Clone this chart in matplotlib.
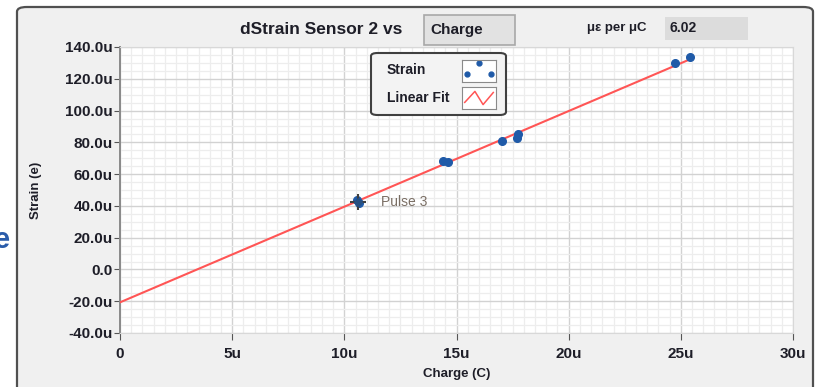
import matplotlib
matplotlib.use("Agg")
import matplotlib.pyplot as plt
from matplotlib.patches import FancyBboxPatch, Rectangle
from matplotlib.ticker import FixedLocator, FixedFormatter, MultipleLocator

# data (charge in uC, strain in u)
charge = [10.55, 10.65, 14.4, 14.6, 17.05, 17.7, 17.75, 24.75, 25.4]
strain = [43.5, 41.8, 68.5, 67.5, 81.0, 83.0, 85.5, 130.0, 134.0]
fit_x = [0.0, 25.4]
fit_y = [-20.7, 132.2]
cursor_x, cursor_y = 10.6, 42.6
slope_text = "6.02"

xticks = [0, 5, 10, 15, 20, 25, 30]
xticklabels = ["0", "5u", "10u", "15u", "20u", "25u", "30u"]
yticks = [-40, -20, 0, 20, 40, 60, 80, 100, 120, 140]
yticklabels = ["-40.0u", "-20.0u", "0.0", "20.0u", "40.0u", "60.0u",
               "80.0u", "100.0u", "120.0u", "140.0u"]

W, H = 819, 387
plt.rcParams['font.family'] = ['Liberation Sans', 'DejaVu Sans']
txt = '#1e1e28'

fig = plt.figure(figsize=(W / 100, H / 100), dpi=100, facecolor='white')


def fx(px):
    return px / W


def fy(py):
    return 1 - py / H


# outer panel
fig.patches.append(FancyBboxPatch((fx(17), fy(400)), fx(796), fy(7) - fy(400),
                                  boxstyle="round,pad=0,rounding_size=0.012",
                                  transform=fig.transFigure, fc='#f0f0f0',
                                  ec='#505050', lw=1.6, zorder=-5))
fig.text(fx(-6), fy(240), "e", color='#2a5caa', fontsize=21, fontweight='bold',
         ha='left', va='center')

# title row
fig.text(fx(321), fy(30), "dStrain Sensor 2 vs", fontsize=12.5, fontweight='bold',
         color=txt, ha='center', va='center')
fig.patches.append(Rectangle((fx(424), fy(45)), fx(91), fy(15) - fy(45),
                             transform=fig.transFigure, fc='#e2e2e2', ec='#a8a8a8', lw=1.2))
fig.text(fx(430), fy(30), "Charge", fontsize=11, fontweight='bold', color=txt,
         ha='left', va='center')
fig.text(fx(617), fy(28), "με per μC", fontsize=9.5, fontweight='bold', color=txt,
         ha='center', va='center')
fig.patches.append(Rectangle((fx(665), fy(40)), fx(83), fy(17) - fy(40),
                             transform=fig.transFigure, fc='#dcdcdc', ec='none'))
fig.text(fx(669), fy(28), slope_text, fontsize=10, fontweight='bold', color=txt,
         ha='left', va='center')

# plot area
ax = fig.add_axes([fx(120), fy(333), fx(673), fy(47) - fy(333)])
ax.set_facecolor('white')
ax.set_xlim(0, 30)
ax.set_ylim(-40, 140)
ax.xaxis.set_major_locator(FixedLocator(xticks))
ax.xaxis.set_major_formatter(FixedFormatter(xticklabels))
ax.yaxis.set_major_locator(FixedLocator(yticks))
ax.yaxis.set_major_formatter(FixedFormatter(yticklabels))
ax.xaxis.set_minor_locator(MultipleLocator(0.5))
ax.yaxis.set_minor_locator(MultipleLocator(5))
ax.grid(which='major', color='#d2d2d2', lw=1.0)
ax.grid(which='minor', color='#ededed', lw=0.9)
ax.set_axisbelow(True)
for s in ['top', 'right', 'bottom']:
    ax.spines[s].set_color('#d8d8d8')
ax.spines['left'].set_color('#8a8a8a')
ax.spines['left'].set_linewidth(1.4)
ax.tick_params(which='minor', length=0)
ax.tick_params(axis='y', which='major', length=4, color='#555555', labelsize=11,
               labelcolor=txt, pad=1)
ax.tick_params(axis='x', which='major', length=5, color='#555555', labelsize=11,
               labelcolor=txt, pad=5, direction='out')
for lab in ax.get_xticklabels() + ax.get_yticklabels():
    lab.set_fontweight('bold')

ax.plot(fit_x, fit_y, color='#ff5555', lw=1.5, zorder=3)
ax.plot(charge, strain, 'o', color='#1f5aa8', ms=5.5, zorder=4)
ax.plot([cursor_x], [cursor_y], marker='+', color='#404040', ms=12, mew=1.5, zorder=5)
ax.plot([cursor_x], [cursor_y], marker='D', color='#274f80', ms=4, zorder=6)
ax.text(cursor_x + 1.05, cursor_y - 0.3, "Pulse 3", color='#7a6e64', fontsize=10,
        ha='left', va='center', zorder=6)

ax.set_xlabel("Charge (C)", fontsize=9.5, fontweight='bold', color=txt, labelpad=5)
ax.set_ylabel("Strain (e)", fontsize=9.5, fontweight='bold', color=txt)
ax.yaxis.set_label_coords((42 - 120) / 673, 0.5)

# legend
fig.patches.append(FancyBboxPatch((fx(371), fy(115)), fx(135), fy(53) - fy(115),
                                  boxstyle="round,pad=0,rounding_size=0.008",
                                  transform=fig.transFigure, fc='#f3f3f3',
                                  ec='#404040', lw=1.5, zorder=10))
fig.text(fx(387), fy(70), "Strain", fontsize=10, fontweight='bold', color=txt,
         ha='left', va='center', zorder=11)
fig.text(fx(387), fy(98), "Linear Fit", fontsize=10, fontweight='bold', color=txt,
         ha='left', va='center', zorder=11)
icon1 = fig.add_axes([fx(462), fy(82), fx(34), fy(60) - fy(82)], zorder=12)
icon1.plot([0.15, 0.5, 0.85], [0.35, 0.85, 0.35], 'o', color='#1f5aa8', ms=3.5, ls='none')
icon2 = fig.add_axes([fx(462), fy(109), fx(34), fy(87) - fy(109)], zorder=12)
icon2.plot([0.08, 0.38, 0.62, 0.92], [0.3, 0.8, 0.2, 0.75], color='#ff5555', lw=1.1)
for ic in (icon1, icon2):
    ic.set_xlim(0, 1)
    ic.set_ylim(0, 1)
    ic.set_xticks([])
    ic.set_yticks([])
    ic.set_facecolor('white')
    for s in ic.spines.values():
        s.set_color('#8a8a8a')

fig.savefig('out.png', dpi=100, facecolor=fig.get_facecolor())
